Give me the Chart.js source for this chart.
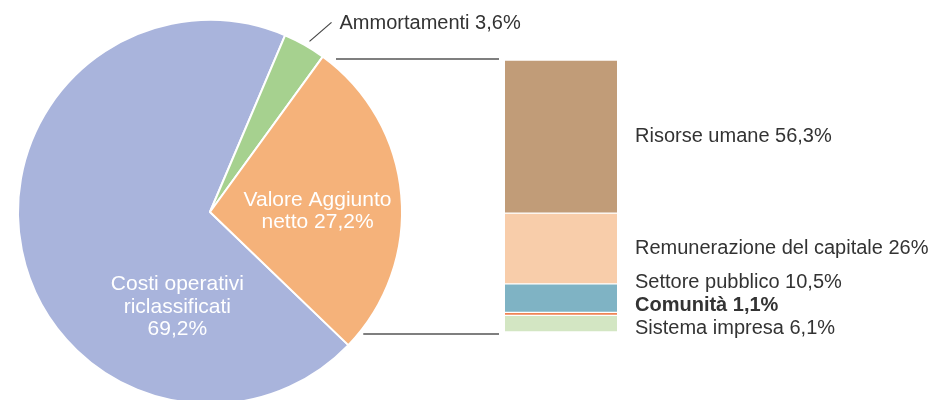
<!DOCTYPE html>
<html>
<head>
<meta charset="utf-8">
<script src="https://cdn.jsdelivr.net/npm/chart.js@4/dist/chart.umd.min.js"></script>
<style>
    html, body { margin: 0; padding: 0; background: #fff; overflow: hidden; }
    #wrap { position: relative; width: 931px; height: 400px; overflow: hidden; }
    #wrap canvas { position: absolute; left: 0; top: 0; }
</style>
</head>
<body>
<div id="wrap">
    <canvas id="pie-chart" width="931" height="420"></canvas>
    <canvas id="bar-chart" width="931" height="400"></canvas>
</div>
<script>
// Pie: how the value is split
const pieCategories = ['Costi operativi riclassificati', 'Ammortamenti', 'Valore Aggiunto netto'];
const pieValues = [69.2, 3.6, 27.2];
const pieColors = ['#a9b4dc', '#a6d18f', '#f5b27a'];

// Stacked bar: how the value added is distributed
const barCategories = ['Risorse umane', 'Remunerazione del capitale', 'Settore pubblico', 'Comunità', 'Sistema impresa'];
const barValues = [56.3, 26, 10.5, 1.1, 6.1];
const barColors = ['#c19c78', '#f8cdaa', '#7fb3c4', '#ef8455', '#d3e6c3'];

const FONT = '"Liberation Sans", Arial, sans-serif';
const OUT_SIZE = 20;   // labels outside the pie
const IN_SIZE = 21;    // labels inside the slices
const TEXT_DARK = '#333333';

const fmt = v => String(v).replace('.', ',') + '%';

// --- pie slice labels ---
const pieLabels = {
    id: 'pieLabels',
    afterDraw(chart) {
        const ctx = chart.ctx;
        const arcs = chart.getDatasetMeta(0).data;
        const cx = arcs[0].x, cy = arcs[0].y, r = arcs[0].outerRadius;

        ctx.save();
        ctx.font = IN_SIZE + 'px ' + FONT;
        ctx.textAlign = 'center';
        ctx.textBaseline = 'middle';
        ctx.fillStyle = '#ffffff';

        // Costi operativi (inside, lower part of the slice)
        const costi = ['Costi operativi', 'riclassificati', fmt(pieValues[0])];
        costi.forEach((t, i) => ctx.fillText(t, cx - 0.17 * r, cy + 0.495 * r + (i - 1) * 22.5));

        // Valore Aggiunto (inside)
        const valore = ['Valore Aggiunto', 'netto ' + fmt(pieValues[2])];
        valore.forEach((t, i) => ctx.fillText(t, cx + 0.56 * r, cy - 0.005 * r + (i - 0.5) * 22.5));

        // Ammortamenti (outside with a leader line)
        const a = arcs[1];
        const mid = (a.startAngle + a.endAngle) / 2;
        const sx = cx + Math.cos(mid) * (r + 4) + 3;
        const sy = cy + Math.sin(mid) * (r + 4);
        const ex = sx + 22, ey = sy - 19;
        ctx.strokeStyle = '#444';
        ctx.lineWidth = 1.2;
        ctx.beginPath();
        ctx.moveTo(sx, sy);
        ctx.lineTo(ex, ey);
        ctx.stroke();
        ctx.font = OUT_SIZE + 'px ' + FONT;
        ctx.fillStyle = TEXT_DARK;
        ctx.textAlign = 'left';
        ctx.fillText(pieCategories[1] + ' ' + fmt(pieValues[1]), ex + 8, ey + 1);
        ctx.restore();
    }
};

const pieChart = new Chart(document.getElementById('pie-chart'), {
    type: 'pie',
    data: {
        labels: pieCategories,
        datasets: [{
            data: pieValues,
            backgroundColor: pieColors,
            borderColor: '#ffffff',
            borderWidth: 2
        }]
    },
    options: {
        responsive: false,
        animation: false,
        rotation: 133.9,
        layout: { padding: { left: 17, top: 19, right: 528, bottom: 15 } },
        plugins: {
            legend: { display: false },
            tooltip: { enabled: false }
        }
    },
    plugins: [pieLabels]
});

// --- bar labels and connector lines ---
const barLabels = {
    id: 'barLabels',
    afterDraw(chart) {
        const ctx = chart.ctx;
        const yScale = chart.scales.y;
        const first = chart.getDatasetMeta(0).data[0];
        const barLeft = first.x - first.width / 2;
        const barRight = first.x + first.width / 2;
        const barTop = yScale.getPixelForValue(0);
        const barBottom = yScale.getPixelForValue(100);

        // label centres, pushed apart from the bottom up
        const ys = barCategories.map((c, i) => {
            const el = chart.getDatasetMeta(i).data[0];
            return (el.y + el.base) / 2;
        });
        ys[ys.length - 1] += 5;
        for (let i = ys.length - 2; i >= 0; i--) {
            ys[i] = Math.min(ys[i], ys[i + 1] - 23);
        }

        ctx.save();
        ctx.textAlign = 'left';
        ctx.textBaseline = 'middle';
        ctx.fillStyle = TEXT_DARK;
        barCategories.forEach((c, i) => {
            ctx.font = (i === 3 ? 'bold ' : '') + OUT_SIZE + 'px ' + FONT;
            ctx.fillText(c + ' ' + fmt(barValues[i]), barRight + 18, ys[i]);
        });

        // connector lines from the pie to the bar
        const arc = pieChart.getDatasetMeta(0).data[0];
        const cx = arc.x, cy = arc.y, r = arc.outerRadius;
        const edgeX = y => cx + Math.sqrt(Math.max(r * r - (y - cy) * (y - cy), 0));
        ctx.strokeStyle = '#555';
        ctx.lineWidth = 1.5;
        const topY = barTop - 1, botY = barBottom + 2;
        ctx.beginPath();
        ctx.moveTo(edgeX(topY) + 10, topY);
        ctx.lineTo(barLeft - 6, topY);
        ctx.moveTo(edgeX(botY) + 5, botY);
        ctx.lineTo(barLeft - 6, botY);
        ctx.stroke();
        ctx.restore();
    }
};

new Chart(document.getElementById('bar-chart'), {
    type: 'bar',
    data: {
        labels: [''],
        datasets: barCategories.map((c, i) => ({
            label: c,
            data: [barValues[i]],
            backgroundColor: barColors[i],
            borderColor: '#ffffff',
            borderWidth: { top: 1, bottom: 1, left: 0, right: 0 },
            borderSkipped: false,
            barPercentage: 1,
            categoryPercentage: 1
        }))
    },
    options: {
        responsive: false,
        animation: false,
        layout: { padding: { left: 505, right: 314, top: 60, bottom: 68 } },
        scales: {
            x: { display: false, stacked: true },
            y: { display: false, stacked: true, reverse: true, min: 0, max: 100 }
        },
        plugins: {
            legend: { display: false },
            tooltip: { enabled: false }
        }
    },
    plugins: [barLabels]
});
</script>
</body>
</html>
